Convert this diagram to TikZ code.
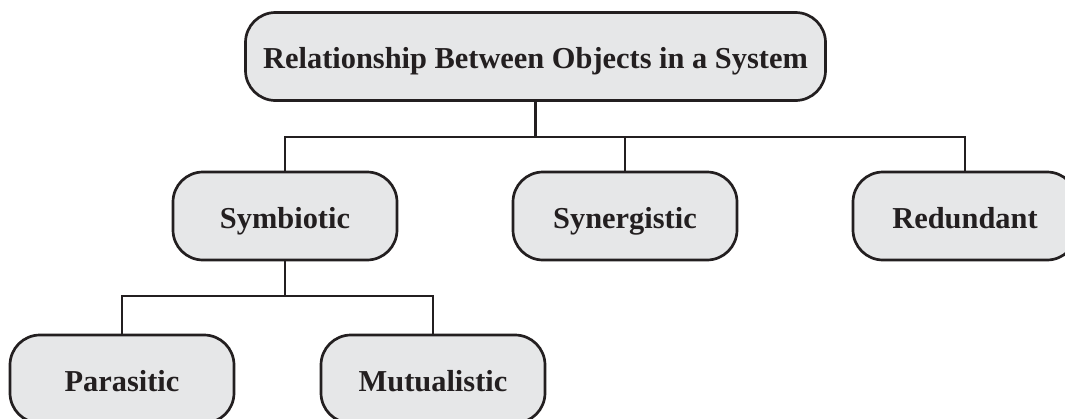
\documentclass[tikz,border=0pt]{standalone}
\usepackage{fontspec}
\setmainfont{Liberation Serif}
\definecolor{boxgray}{HTML}{E6E7E8}
\definecolor{ink}{HTML}{231F20}
\begin{document}
\begin{tikzpicture}[x=0.5pt,y=-0.5pt,
  box/.style={draw=ink, line width=1.35pt, fill=boxgray, rounded corners=15pt,
    align=center, text=ink, inner sep=0pt, text height=12pt, text depth=0pt,
    font=\fontsize{15.2}{18}\selectfont\bfseries},
  child/.style={box, minimum width=112pt, minimum height=44pt},
  link/.style={draw=ink, line width=1.45pt}]
\useasboundingbox (0,0) rectangle (1065,418);
\clip (0,0) rectangle (1065,418);

% hierarchy levels
\node[box, minimum width=290pt, minimum height=44pt] (root) at (535.5,56.5)
  {Relationship Between Objects in a System};
\node[child] (sym) at (285,216) {Symbiotic};
\node[child] (syn) at (625,216) {Synergistic};
\node[child] (red) at (965,216) {Redundant};
\node[child] (par) at (122,379) {Parasitic};
\node[child] (mut) at (433,379) {Mutualistic};

% bus lines between levels
\coordinate (bus1) at (535,137);
\coordinate (bus2) at (285,296);

\draw[link] (root.south) -- (root.south |- bus1);
\draw[link] (sym.north) -- (sym.north |- bus1) -| (red.north);
\draw[link] (syn.north) -- (syn.north |- bus1);
\draw[link] (sym.south) -- (sym.south |- bus2);
\draw[link] (par.north) -- (par.north |- bus2) -| (mut.north);
\end{tikzpicture}
\end{document}
